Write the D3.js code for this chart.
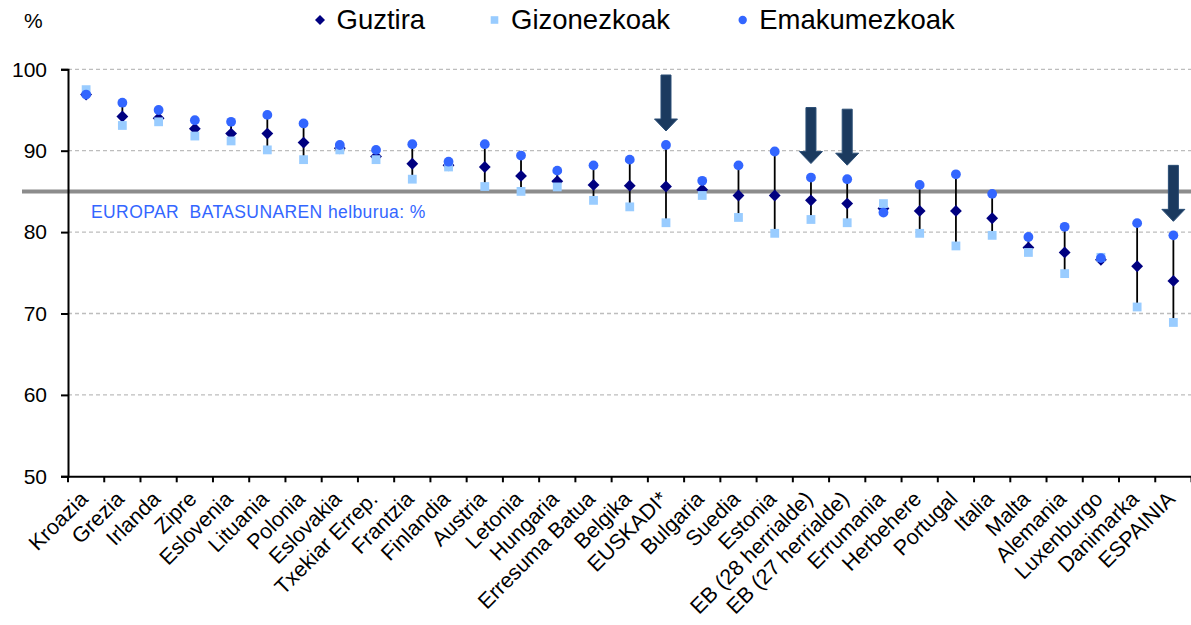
<!DOCTYPE html>
<html><head><meta charset="utf-8">
<script src="https://cdn.jsdelivr.net/npm/d3@7"></script>
<style>body{margin:0;background:#fff}svg{display:block;font-family:"Liberation Sans",Arial,sans-serif}</style>
</head><body><svg id="c" width="1191" height="625"></svg>
<script>
const categories = ["Kroazia","Grezia","Irlanda","Zipre","Eslovenia","Lituania","Polonia","Eslovakia","Txekiar Errep.","Frantzia","Finlandia","Austria","Letonia","Hungaria","Erresuma Batua","Belgika","EUSKADI*","Bulgaria","Suedia","Estonia","EB (28 herrialde)","EB (27 herrialde)","Errumania","Herbehere","Portugal","Italia","Malta","Alemania","Luxenburgo","Danimarka","ESPAINIA"];
const guztira = [96.9,94.2,94.0,92.7,92.1,92.1,91.0,90.3,89.3,88.4,88.2,88.0,86.9,86.25,85.8,85.7,85.6,85.2,84.5,84.5,83.9,83.5,82.9,82.6,82.6,81.7,78.1,77.5,76.6,75.8,74.0];
const gizonezkoak = [97.5,93.1,93.55,91.8,91.2,90.1,88.9,90.1,88.9,86.5,88.0,85.6,85.0,85.55,83.9,83.1,81.15,84.5,81.8,79.85,81.55,81.15,83.5,79.85,78.3,79.6,77.5,74.9,76.9,70.8,68.9];
const emakumezkoak = [96.9,95.9,95.0,93.75,93.55,94.4,93.35,90.7,90.1,90.8,88.65,90.8,89.4,87.55,88.2,88.9,90.7,86.3,88.2,89.9,86.7,86.5,82.4,85.8,87.1,84.7,79.4,80.65,76.8,81.1,79.6];
const yTicks = [50,60,70,80,90,100];
const target = 85;
const targetLabel = "EUROPAR  BATASUNAREN helburua: %";
const highlighted = ["EUSKADI*","EB (28 herrialde)","EB (27 herrialde)","ESPAINIA"];
const legendLabels = ["Guztira","Gizonezkoak","Emakumezkoak"];

const svg = d3.select("#c");
const L = 68, R = 1191.5, T = 69.3, B = 476.3;
const x = d3.scaleBand().domain(categories).range([L, R]);
const y = d3.scaleLinear().domain([50,100]).range([B, T]);
const cx = c => x(c) + x.bandwidth()/2;

// grid
svg.append("g").selectAll("line").data(yTicks.filter(t=>t>50)).join("line")
  .attr("x1", L).attr("x2", R).attr("y1", d=>y(d)).attr("y2", d=>y(d))
  .attr("stroke", "#bdbdbd").attr("stroke-width", 1.3).attr("stroke-dasharray", "4,3");

// target line
svg.append("line").attr("x1", 22).attr("x2", R).attr("y1", y(target)).attr("y2", y(target))
  .attr("stroke", "#8c8c8c").attr("stroke-width", 4);
svg.append("text").attr("x", 91).attr("y", y(target)+27).attr("fill", "#3366ff")
  .attr("font-size", 17.5).attr("letter-spacing", 0.4).style("white-space","pre").text(targetLabel);

// axes
const yAxis = d3.axisLeft(y).tickValues(yTicks).tickSize(7).tickPadding(14);
const gy = svg.append("g").attr("transform", `translate(${L},0)`).call(yAxis);
gy.select(".domain").attr("stroke", "#000").attr("stroke-width", 2);
gy.selectAll(".tick line").attr("stroke-width", 2);
gy.selectAll("text").attr("font-size", 21).attr("font-family", "Liberation Sans, Arial, sans-serif").attr("fill","#000");

const xAxis = d3.axisBottom(x).tickSize(0).tickFormat("");
const gx = svg.append("g").attr("transform", `translate(0,${B})`).call(xAxis);
gx.select(".domain").attr("stroke", "#000").attr("stroke-width", 2);
gx.selectAll(".tick").remove();
svg.append("g").selectAll("line").data(d3.range(categories.length+1)).join("line")
  .attr("x1", i=>L + i*x.step()).attr("x2", i=>L + i*x.step())
  .attr("y1", B).attr("y2", B+6).attr("stroke", "#000").attr("stroke-width", 2);

svg.append("g").selectAll("text").data(categories).join("text")
  .attr("transform", d=>`translate(${cx(d)+3},${B+24}) rotate(-45)`)
  .attr("text-anchor", "end").attr("font-size", 21.5).attr("fill","#000").text(d=>d);

svg.append("text").attr("x", 24).attr("y", 28).attr("font-size", 21).text("%");

// range lines
svg.append("g").selectAll("line").data(categories).join("line")
  .attr("x1", d=>cx(d)).attr("x2", d=>cx(d))
  .attr("y1", (d,i)=>y(Math.max(gizonezkoak[i], emakumezkoak[i], guztira[i])))
  .attr("y2", (d,i)=>y(Math.min(gizonezkoak[i], emakumezkoak[i], guztira[i])))
  .attr("stroke", "#000").attr("stroke-width", 1.8);

const diamond = d3.symbol().type(d3.symbolSquare).size(70);
svg.append("g").selectAll("path").data(categories).join("path")
  .attr("d", diamond).attr("fill", "#000080")
  .attr("transform", (d,i)=>`translate(${cx(d)},${y(guztira[i])}) rotate(45)`);
svg.append("g").selectAll("rect").data(categories).join("rect")
  .attr("x", d=>cx(d)-4.4).attr("y", (d,i)=>y(gizonezkoak[i])-4.4)
  .attr("width", 8.8).attr("height", 8.8).attr("fill", "#99ccff");
svg.append("g").selectAll("circle").data(categories).join("circle")
  .attr("cx", d=>cx(d)).attr("cy", (d,i)=>y(emakumezkoak[i])).attr("r", 4.9).attr("fill", "#3366ff");

// arrows
const arrowG = svg.append("g");
highlighted.forEach(c => {
  const i = categories.indexOf(c);
  const tipY = y(Math.max(emakumezkoak[i], gizonezkoak[i], guztira[i])) - 14;
  const ax = cx(c);
  const p = `M${ax-5},${tipY-56} L${ax+5},${tipY-56} L${ax+5},${tipY-12} L${ax+11.5},${tipY-12} L${ax},${tipY} L${ax-11.5},${tipY-12} L${ax-5},${tipY-12} Z`;
  arrowG.append("path").attr("d", p).attr("fill", "#1b3a5f").attr("stroke", "#2a4d75").attr("stroke-width", 1);
});

// legend
const lg = svg.append("g");
const legendPos = [320, 494.5, 742.7];
lg.append("path").attr("d", d3.symbol().type(d3.symbolSquare).size(50)).attr("fill", "#000080")
  .attr("transform", `translate(${legendPos[0]},20) rotate(45)`);
lg.append("rect").attr("x", legendPos[1]-3.8).attr("y", 16.2).attr("width", 7.6).attr("height", 7.6).attr("fill", "#99ccff");
lg.append("circle").attr("cx", legendPos[2]).attr("cy", 20).attr("r", 4.2).attr("fill", "#3366ff");
legendLabels.forEach((t, k) => {
  lg.append("text").attr("x", legendPos[k]+16.5).attr("y", 28.5).attr("font-size", 27.5).attr("fill","#000").text(t);
});
</script></body></html>
